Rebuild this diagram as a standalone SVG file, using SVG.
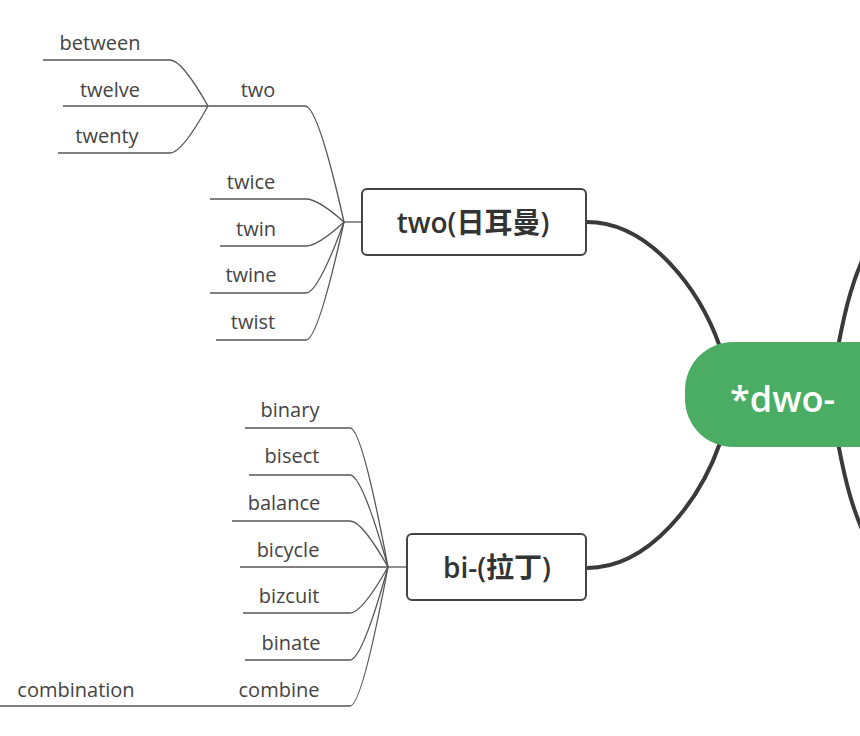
<svg xmlns="http://www.w3.org/2000/svg" width="860" height="736" viewBox="0 0 860 736">
<style>
.br{fill:none;stroke:#555;stroke-width:1.3}
.main{fill:none;stroke:#3a3a3a;stroke-width:4}
.lb{font-family:"Open Sans","Noto Sans",sans-serif;font-size:20px;fill:#444;text-anchor:middle}
.box{fill:#fff;stroke:#444;stroke-width:2}
.bt{font-family:"Open Sans","Noto Sans CJK SC",sans-serif;font-size:28px;font-weight:600;fill:#333;text-anchor:middle}
</style>
<rect width="860" height="736" fill="#fff"/>
<g id="connectors">
<path class="main" d="M587,222 C650,222 700,290 720,347"/>
<path class="main" d="M587,568 C650,568 700,500 720,443"/>
<path class="main" d="M838,347 C845,310 853,275 872,240"/>
<path class="main" d="M838,443 C845,480 853,515 872,550"/>
<path class="br" d="M362,222 H344"/>
<path class="br" d="M210,106 H305 Q318,106 344,222"/>
<path class="br" d="M210,199 H306 Q318,199 344,222"/>
<path class="br" d="M220,246 H306 Q318,246 344,222"/>
<path class="br" d="M210,293 H306 Q318,293 344,222"/>
<path class="br" d="M216,340 H306 Q318,340 344,222"/>
<path class="br" d="M43,60 H170 Q182,60 208,106"/>
<path class="br" d="M63,106 H210"/>
<path class="br" d="M58,153 H170 Q182,153 208,106"/>
<path class="br" d="M407,567 H388"/>
<path class="br" d="M245,428 H350 Q362,428 388,567"/>
<path class="br" d="M249,475 H350 Q362,475 388,567"/>
<path class="br" d="M232,521 H350 Q362,521 388,567"/>
<path class="br" d="M240,567 H388"/>
<path class="br" d="M243,613 H350 Q362,613 388,567"/>
<path class="br" d="M245,660 H350 Q362,660 388,567"/>
<path class="br" d="M0,706 H350 Q362,706 388,567"/>
</g>
<g id="center">
<rect x="685" y="342" width="260" height="105" rx="48" fill="#4aad63"/>
<text x="730" y="412" font-family="Open Sans,sans-serif" font-size="36" font-weight="600" fill="#fff">*dwo-</text>
</g>
<g id="n-two">
<rect class="box" x="362" y="189" width="224" height="66" rx="5"/>
<text class="bt" x="473" y="226" dominant-baseline="middle">two(日耳曼)</text>
</g>
<g id="n-bi">
<rect class="box" x="407" y="534" width="179" height="66" rx="5"/>
<text class="bt" x="497" y="571" dominant-baseline="middle">bi-(拉丁)</text>
</g>
<g id="n-two-w"><text class="lb" x="258" y="97">two</text></g>
<g id="n-between"><text class="lb" x="100" y="50">between</text></g>
<g id="n-twelve"><text class="lb" x="110" y="97">twelve</text></g>
<g id="n-twenty"><text class="lb" x="107" y="143">twenty</text></g>
<g id="n-twice"><text class="lb" x="251" y="189">twice</text></g>
<g id="n-twin"><text class="lb" x="256" y="236">twin</text></g>
<g id="n-twine"><text class="lb" x="251" y="282">twine</text></g>
<g id="n-twist"><text class="lb" x="253" y="329">twist</text></g>
<g id="n-binary"><text class="lb" x="290" y="417">binary</text></g>
<g id="n-bisect"><text class="lb" x="292" y="463">bisect</text></g>
<g id="n-balance"><text class="lb" x="284" y="510">balance</text></g>
<g id="n-bicycle"><text class="lb" x="288" y="557">bicycle</text></g>
<g id="n-bizcuit"><text class="lb" x="289" y="603">bizcuit</text></g>
<g id="n-binate"><text class="lb" x="291" y="650">binate</text></g>
<g id="n-combine"><text class="lb" x="279" y="697">combine</text></g>
<g id="n-combination"><text class="lb" x="76" y="697">combination</text></g>
</svg>
